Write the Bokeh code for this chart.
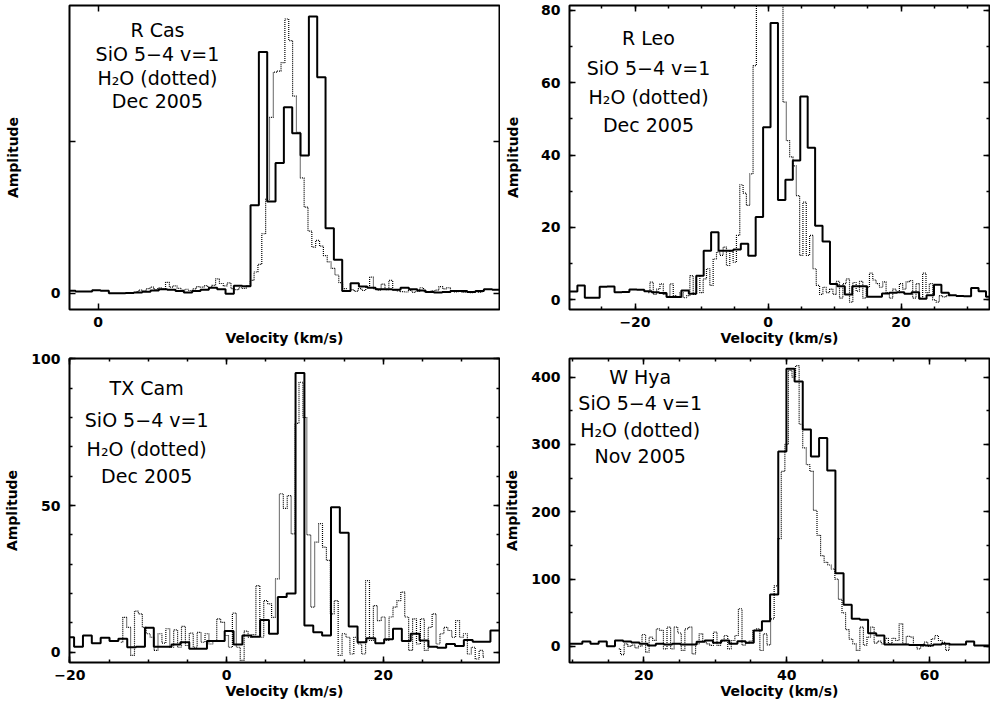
import numpy as np
from bokeh.plotting import figure
from bokeh.models import (Range1d, LinearAxis, FixedTicker, SingleIntervalTicker, Label,
                          CustomJSTickFormatter)
from bokeh.layouts import column, row
from bokeh.embed import file_html
from bokeh.resources import INLINE

# ---------------- data (velocity grid start, channel width, amplitudes) ----------------
# R Cas
rcas_sio_v0, rcas_sio_dv = -3.48, 1.0823
rcas_sio = [0.8, 0.6, 0.6, 1.0, 0.8, 0.0, 0.0, 0.1, 0.2, 0.5, 0.9, 1.3, 1.1, 0.7, 0.2, 0.7,
            1.1, 1.8, 1.3, -0.2, 2.5, 2.3, 29.0, 79.5, 30.2, 42.9, 61.3, 52.7, 45.4, 91.2,
            71.2, 21.4, 11.0, 0.7, 3.3, 2.2, 1.8, 1.3, 1.3, 1.1, 1.8, 1.3, 0.9, 0.4, 0.2,
            0.4, 0.7, 0.7, 0.4, 0.7, 1.3, 1.1]
rcas_h2o_v0, rcas_h2o_dv = 5.0, 0.5
rcas_h2o = [0.5, 1.0, 0.8, 1.5, 2.0, 1.2, 1.8, 1.4, 3.6, 2.0,
            2.4, 1.6, 1.0, 1.3, 0.9, 1.4, 2.2, 2.0, 2.5, 1.8,
            2.6, 4.7, 3.2, 2.4, 3.4, 1.5, 1.2, 1.8, 1.6, 2.5,
            4.2, 7.0, 9.5, 19.6, 31, 58, 72.9, 73.2, 76, 90.4,
            83.3, 65, 53, 38, 28.4, 20.5, 15.2, 17.4, 15.5, 12.4,
            10.3, 8.2, 6.0, 3.5, 1.5, 0.8, 1.2, 0.6, 1.5, 0.9,
            2.0, 5.3, 1.5, 1.0, 3.0, 1.2, 4.2, 1.0, 0.8, 0.5,
            0.4, 0.9, 0.3, 0.6, 1.8, 0.5, 0.4, 0.8, 1.0, 2.2,
            1.4, 1.8, 0.6, 0.4, 0.8, 0.3, 0.5, 0.2, 0.6, 0.3, 0.4]

# R Leo
rleo_sio_v0, rleo_sio_dv = -30.34, 1.117
rleo_sio = [2.3, 2.3, 4.0, 0.6, 0.6, 3.6, 3.7, 2.1, 2.2, 2.9,
            2.8, 2.4, 2.1, 1.9, 0.8, 0.8, 2.6, 1.7, 6.7, 13.6,
            18.7, 13.6, 13.6, 13.9, 15.5, 12.2, 22.9, 47.7, 76.5, 27.6,
            33.2, 38.5, 56.2, 42.0, 20.5, 16.1, 4.4, 3.8, 1.5, 3.8,
            3.8, 0.9, 0.9, 1.8, 2.0, 2.1, 1.7, 2.1, 0.3, 1.3,
            4.2, 2.0, 1.3, 1.1, 1.0, 3.3, 2.4, 0.9]
rleo_h2o_v0, rleo_h2o_dv = -18.0, 0.5
rleo_h2o = [2.0, 4.9, 1.5, 3.0, 4.4, 1.5, 1.0, 4.4, 1.2, 0.8,
            2.0, 0.6, 1.2, 6.7, 1.5, 6.7, 2.0, 5.8, 8.6, 4.0,
            11.3, 13.2, 12.3, 14.6, 9.5, 13.6, 10.4, 17.8, 31.8, 29.5,
            26.1, 34.8, 64.7, 95, 110, 120, 125, 125, 120, 105,
            85, 54.6, 44, 39.5, 37, 28.8, 12.3, 27, 12.3, 17.8,
            8.6, 4.0, 1.5, 3.5, 2.0, 3.0, 1.5, 5.1, 0.5, 4.5,
            5.8, -0.6, 4.8, 2.4, 5.1, 0.5, 3.5, 7.4, 5.5, 4.5,
            3.5, 5.0, 2.0, 0.5, 3.0, 2.0, 4.5, 3.0, 5.0, 5.3,
            0.5, 4.5, 0.5, 7.4, 2.0, 4.5, 0.0, -0.6, 1.2, 0.8, 1.2, 1.5]

# TX Cam
txcam_sio_v0, txcam_sio_dv = -20.03, 1.131
txcam_sio = [5.1, 1.9, 5.7, 3.1, 4.9, 3.8, 4.6, 1.7, 1.9, 8.3,
             1.9, 1.9, 2.6, 3.4, 1.2, 1.2, 3.8, 3.8, 7.2, 2.6,
             5.7, 5.3, 11.0, 6.3, 18.8, 20.0, 95.2, 9.1, 6.8, 5.7,
             49.4, 40.7, 8.8, 3.4, 4.8, 3.1, 4.4, 8.0, 3.8, 6.3,
             4.0, 1.9, 1.5, 2.8, 2.1, 4.2, 3.6, 3.6, 7.4]
txcam_h2o_v0, txcam_h2o_dv = -13.5, 0.5
txcam_h2o = [3.4, 11.9, 8.5, -1.1, 14.0, 13.1, 8.5, 6.3, 5.1, 0.6,
             6.3, 3.1, 8.0, 1.7, 7.6, 1.7, 8.8, 2.3, 6.5, 1.7,
             6.8, 3.4, 6.3, 2.8, 4.0, 11.4, 10.2, 5.7, 1.7, 13.3,
             1.7, -2.8, 7.2, 5.1, 6.0, 22.7, 5.1, 17.6, 16.5, 11.9,
             25, 54, 49, 53.4, 40.3, 78, 92, 80, 40, 15.4,
             37.5, 43.8, 35.8, 31.3, 13.1, 17.6, -1.1, 6.3, 5.1, -0.6,
             5.1, 2.8, -0.6, 24.4, 4.0, 15.9, 10.8, 12.0, 4.0, 12.0,
             15.4, 17.6, 20.5, 12.0, 0.6, 11.4, 2.8, 11.4, 0.6, 8.5,
             13.1, 2.8, 6.3, 8.5, 7.4, 5.1, 10.8, 5.1, 6.3, -0.6,
             1.7, -2.3, 0.6, -1.7]

# W Hya
whya_sio_v0, whya_sio_dv = 9.68, 1.143
whya_sio = [4.0, 4.0, 7.4, 4.0, 7.4, 0.5, 8.9, 7.4, 5.9, 4.0,
            1.5, 4.0, 3.0, 4.0, 3.0, 3.0, 7.0, 8.9, 5.4, 8.9,
            4.0, 7.9, 5.4, 23.8, 37.6, 77.2, 289.6, 412.4, 393.6, 322.3,
            282.2, 309.4, 261.4, 108.9, 61.9, 41.0, 39.6, 19.8, 16.3, 3.0,
            3.0, 3.0, 2.0, 2.0, 1.5, 3.0, 4.0, 3.0, 3.0, 7.4,
            1.5, 1.5]
whya_h2o_v0, whya_h2o_dv = 16.5, 0.5
whya_h2o = [-3.5, -12, 4, 0, 2, -2, 0.5, 17.8, -8.4, 13.9,
            9, 26, 23.8, -3.5, 28.7, -3.5, 28.7, 20, -5.9, 26.2,
            28.7, -10.9, 4, 18.8, 8.9, 4, 1.5, 21.3, 1.5, 8,
            16.3, -3.5, 8.9, 16.3, 56, 2, 5, 8, 23.8, 26.2,
            -6, 18.8, 2.5, 41, 90, 160, 260, 300, 410, 400,
            417, 330, 295, 270, 260, 202, 165, 135, 125, 121,
            115, 100, 70, 50, 25, 11, 4, -5.9, 28.7, 2,
            13.9, 28.7, 5, 8, 4, 12, 4, 12, 8.9, 33.7,
            4, 14.9, 14, 1.5, -3.5, 0, 6.4, 0, 11.4, 16.3,
            8.9, 6, -5.9, 4]

sources = ["R Cas", "R Leo", "TX Cam", "W Hya"]
dates = ["Dec 2005", "Dec 2005", "Dec 2005", "Nov 2005"]
line_name = "SiO 5\u22124 v=1"
water_name = "H\u2082O (dotted)"
x_label = "Velocity (km/s)"
y_label = "Amplitude"

FONT = "DejaVu Sans"
BLANK = CustomJSTickFormatter(code="return ''")


def style_axis(ax, ticker, labels=True, overrides=None):
    ax.ticker = ticker
    ax.axis_line_color = None
    ax.major_tick_in = 6
    ax.major_tick_out = 0
    ax.minor_tick_in = 3
    ax.minor_tick_out = 0
    ax.major_tick_line_color = "black"
    ax.minor_tick_line_color = "black"
    ax.major_tick_line_width = 1.5
    ax.minor_tick_line_width = 1.5
    if labels:
        ax.major_label_text_font = FONT
        ax.major_label_text_font_style = "bold"
        ax.major_label_text_font_size = "14px"
        ax.major_label_text_color = "black"
        ax.axis_label_text_font = FONT
        ax.axis_label_text_font_style = "bold"
        ax.axis_label_text_font_size = "14px"
        ax.axis_label_text_color = "black"
        if overrides:
            ax.major_label_overrides = overrides
    else:
        ax.formatter = BLANK
        ax.major_label_text_font_size = "1px"
        ax.major_label_standoff = 0


def panel(xr, yr, xt, yt, fw, fh, bl, bt, bb, ylab_standoff, xover=None, yover=None):
    p = figure(frame_width=fw, frame_height=fh,
               x_range=Range1d(*xr), y_range=Range1d(*yr),
               output_backend="svg", toolbar_location=None,
               min_border_left=bl, min_border_right=1,
               min_border_top=bt, min_border_bottom=bb)
    p.grid.visible = False
    p.outline_line_color = "black"
    p.outline_line_width = 2
    p.outline_line_alpha = 1
    p.background_fill_color = "white"
    p.border_fill_color = "white"
    style_axis(p.xaxis[0], xt, overrides=xover)
    style_axis(p.yaxis[0], yt, overrides=yover)
    p.xaxis[0].axis_label = x_label
    p.yaxis[0].axis_label = y_label
    p.xaxis[0].major_label_standoff = 7
    p.xaxis[0].axis_label_standoff = 0
    p.yaxis[0].major_label_standoff = 9
    p.yaxis[0].axis_label_standoff = ylab_standoff
    top = LinearAxis()
    style_axis(top, xt, labels=False)
    p.add_layout(top, "above")
    right = LinearAxis()
    style_axis(right, yt, labels=False)
    p.add_layout(right, "right")
    return p


def draw(p, sio_v0, sio_dv, sio, h2o_v0, h2o_dv, h2o):
    n = len(sio)
    edges = sio_v0 - sio_dv / 2 + sio_dv * np.arange(n + 1)
    vals = list(sio) + [sio[-1]]
    p.step(edges, vals, mode="after", line_color="black", line_width=2)
    hv = h2o_v0 + h2o_dv * np.arange(len(h2o))
    p.step(hv, h2o, mode="center", line_color="black", line_width=1.2, line_dash="1 1")


def add_text(p, x, ys, lines):
    for y, t in zip(ys, lines):
        p.add_layout(Label(x=x, y=y, text=t, text_align="center",
                           text_baseline="alphabetic", text_font=FONT,
                           text_font_size="19px", text_color="black"))


LW, RW = 430, 420
TH, BH = 304, 304

p1 = panel((-3.72, 52.12), (-5.37, 94.85),
           FixedTicker(ticks=[0], minor_ticks=[]), FixedTicker(ticks=[0, 50], minor_ticks=[]),
           LW, TH, 69, 5, 41, 27, yover={50: ""})
draw(p1, rcas_sio_v0, rcas_sio_dv, rcas_sio, rcas_h2o_v0, rcas_h2o_dv, rcas_h2o)
add_text(p1, 7.7, [86.9, 79.0, 70.8, 63.5], [sources[0], line_name, water_name, dates[0]])

p2 = panel((-29.85, 33.3), (-2.65, 81.3),
           SingleIntervalTicker(interval=20, num_minor_ticks=4),
           SingleIntervalTicker(interval=20, num_minor_ticks=2),
           RW, TH, 69, 5, 41, 17, xover={-20: "\u221220"})
draw(p2, rleo_sio_v0, rleo_sio_dv, rleo_sio, rleo_h2o_v0, rleo_h2o_dv, rleo_h2o)
add_text(p2, -17.97, [72.2, 64.0, 56.0, 48.3], [sources[1], line_name, water_name, dates[1]])

p3 = panel((-20.05, 34.85), (-3.5, 100.1),
           SingleIntervalTicker(interval=20, num_minor_ticks=4),
           SingleIntervalTicker(interval=50, num_minor_ticks=5),
           LW, BH, 69, 8, 41, 8, xover={-20: "\u221220"})
draw(p3, txcam_sio_v0, txcam_sio_dv, txcam_sio, txcam_h2o_v0, txcam_h2o_dv, txcam_h2o)
add_text(p3, -10.2, [89.9, 79.3, 69.4, 59.9], [sources[2], line_name, water_name, dates[2]])

p4 = panel((9.6, 68.4), (-23.8, 427.6),
           SingleIntervalTicker(interval=20, num_minor_ticks=4),
           SingleIntervalTicker(interval=100, num_minor_ticks=2),
           RW, BH, 69, 8, 41, 8)
draw(p4, whya_sio_v0, whya_sio_dv, whya_sio, whya_h2o_v0, whya_h2o_dv, whya_h2o)
add_text(p4, 19.5, [399.4, 361.0, 320.9, 282.3], [sources[3], line_name, water_name, dates[3]])

layout = column(row(p1, p2), row(p3, p4))
open("out.html", "w").write(file_html(layout, INLINE))
